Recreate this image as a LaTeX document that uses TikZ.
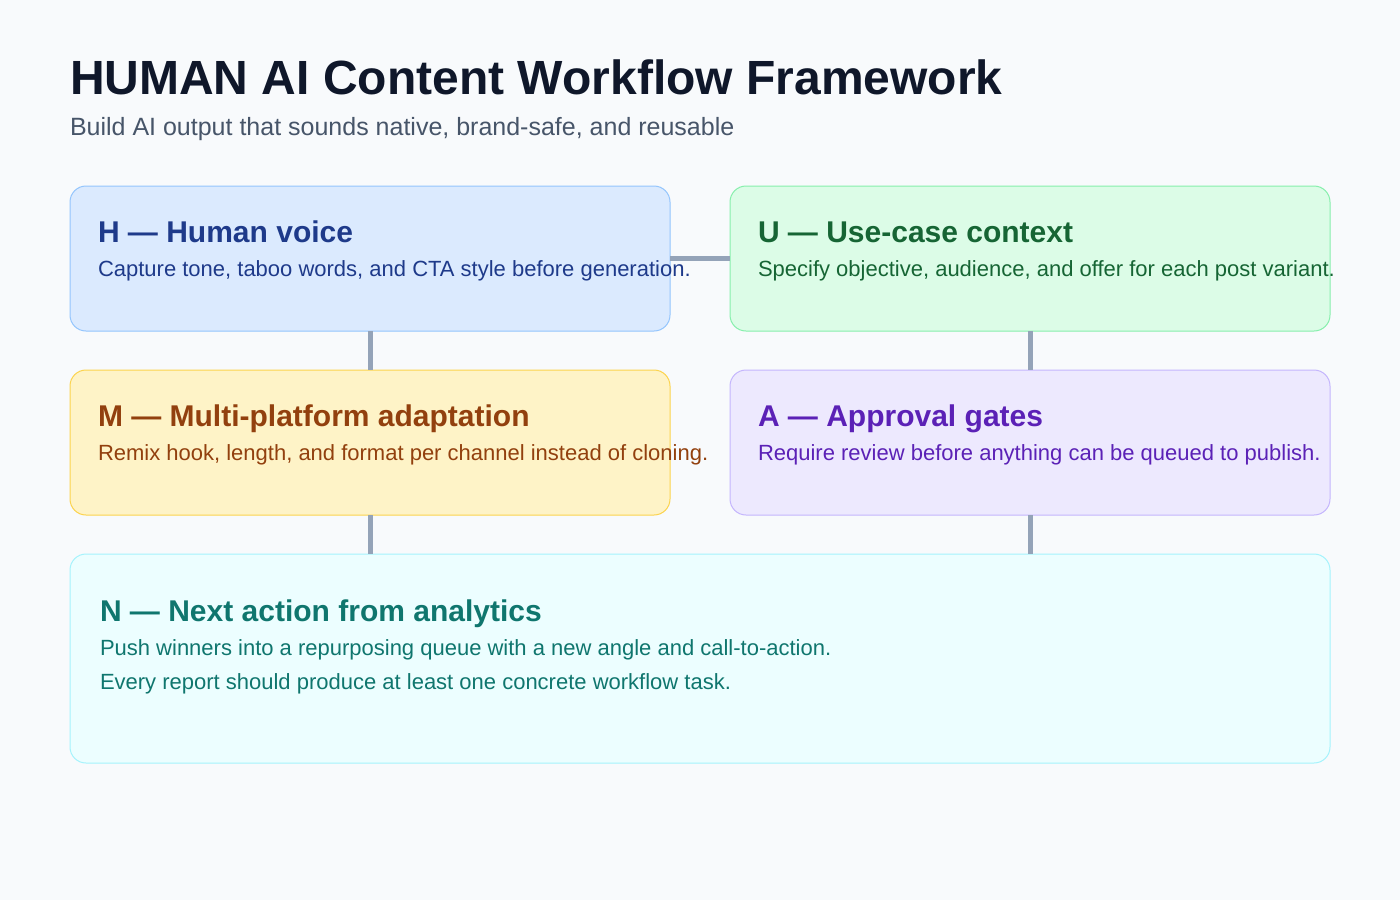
\documentclass[tikz,border=0pt]{standalone}
\usepackage{fontspec}
\setmainfont{Liberation Sans}
\definecolor{bg}{HTML}{F8FAFC}
\definecolor{ttl}{HTML}{0F172A}
\definecolor{sub}{HTML}{475569}
\definecolor{conn}{HTML}{94A3B8}
\definecolor{hfill}{HTML}{DBEAFE}\definecolor{hdraw}{HTML}{93C5FD}\definecolor{htext}{HTML}{1E3A8A}
\definecolor{ufill}{HTML}{DCFCE7}\definecolor{udraw}{HTML}{86EFAC}\definecolor{utext}{HTML}{166534}
\definecolor{mfill}{HTML}{FEF3C7}\definecolor{mdraw}{HTML}{FCD34D}\definecolor{mtext}{HTML}{92400E}
\definecolor{afill}{HTML}{EDE9FE}\definecolor{adraw}{HTML}{C4B5FD}\definecolor{atext}{HTML}{5B21B6}
\definecolor{nfill}{HTML}{ECFEFF}\definecolor{ndraw}{HTML}{A5F3FC}\definecolor{ntext}{HTML}{0F766E}
\begin{document}
\begin{tikzpicture}[x=1pt,y=-1pt,
  card/.style={draw=#1draw,fill=#1fill,line width=1pt,rounded corners=16pt,inner sep=0pt,outer sep=0pt},
  link/.style={draw=conn,line width=5pt},
  txt/.style={anchor=base west,inner sep=0pt,outer sep=0pt},
  cardtitle/.style={txt,font=\fontsize{30}{32}\selectfont\bfseries},
  cardbody/.style={txt,font=\fontsize{22}{26}\selectfont},
]
\fill[bg] (0,0) rectangle (1400,900);
\useasboundingbox (0,0) rectangle (1400,900);
\node[txt,text=ttl,font=\fontsize{48}{52}\selectfont\bfseries] (title) at (70,94) {HUMAN AI Content Workflow Framework};
\node[txt,text=sub,font=\fontsize{25}{28}\selectfont] (subtitle) at (70,135) {Build AI output that sounds native, brand-safe, and reusable};
% cards
\node[card=h,minimum width=600pt,minimum height=145pt,anchor=north west] (H) at (70,186) {};
\node[card=u,minimum width=600pt,minimum height=145pt,anchor=north west] (U) at (730,186) {};
\node[card=m,minimum width=600pt,minimum height=145pt,anchor=north west] (M) at (70,370) {};
\node[card=a,minimum width=600pt,minimum height=145pt,anchor=north west] (A) at (730,370) {};
\node[card=n,minimum width=1260pt,minimum height=209pt,anchor=north west] (N) at (70,554) {};
% connectors
\draw[link] (H.east |- 0,258) -- (U.west |- 0,258);
\draw[link] (H.south -| 370,0) -- (M.north -| 370,0);
\draw[link] (U.south -| 1030,0) -- (A.north -| 1030,0);
\draw[link] (M.south -| 370,0) -- (N.north -| 370,0);
\draw[link] (A.south -| 1030,0) -- (N.north -| 1030,0);
% texts
\node[cardtitle,text=htext] (Ht) at (98,242) {H — Human voice};
\node[cardbody,text=htext] (Hb) at (98,276) {Capture tone, taboo words, and CTA style before generation.};
\node[cardtitle,text=utext] (Ut) at (758,242) {U — Use-case context};
\node[cardbody,text=utext] (Ub) at (758,276) {Specify objective, audience, and offer for each post variant.};
\node[cardtitle,text=mtext] (Mt) at (98,426) {M — Multi-platform adaptation};
\node[cardbody,text=mtext] (Mb) at (98,460) {Remix hook, length, and format per channel instead of cloning.};
\node[cardtitle,text=atext] (At) at (758,426) {A — Approval gates};
\node[cardbody,text=atext] (Ab) at (758,460) {Require review before anything can be queued to publish.};
\node[cardtitle,text=ntext] (Nt) at (100,621) {N — Next action from analytics};
\node[cardbody,text=ntext] (Nb1) at (100,655) {Push winners into a repurposing queue with a new angle and call-to-action.};
\node[cardbody,text=ntext] (Nb2) at (100,689) {Every report should produce at least one concrete workflow task.};
\end{tikzpicture}
\end{document}
